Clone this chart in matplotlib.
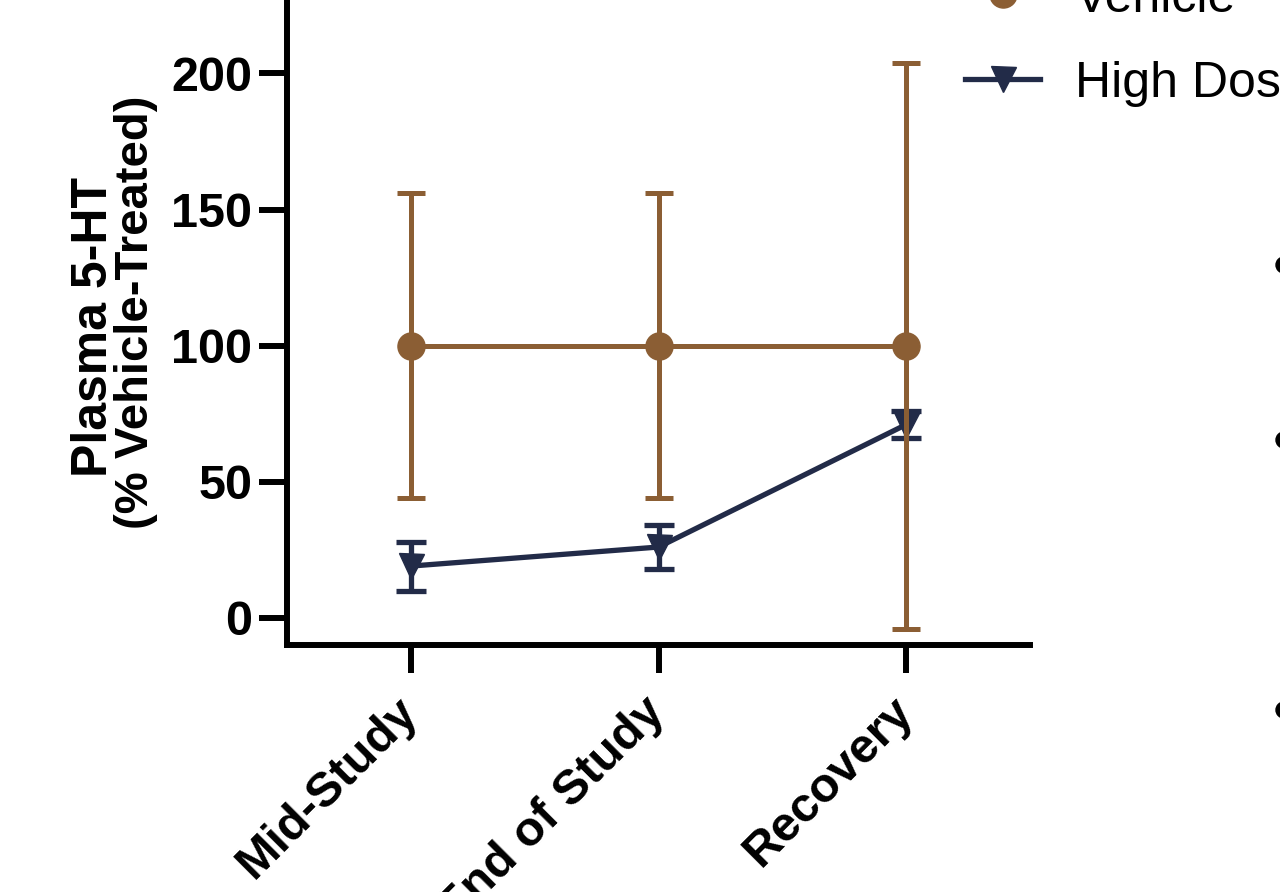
import matplotlib.pyplot as plt
import matplotlib.transforms as mtransforms
from matplotlib.lines import Line2D
from matplotlib.patches import Circle

plt.rcParams['font.family'] = ['Liberation Sans', 'DejaVu Sans']

timepoints = ['Mid-Study', 'End of Study', 'Recovery']
vehicle_mean = [100, 100, 100]
vehicle_lo = [44, 44, -4]
vehicle_hi = [156, 156, 204]
high_mean = [19, 26, 71]
high_lo = [10, 18, 66]
high_hi = [28, 34, 76]

brown = '#8B5E34'
navy = '#222B48'

fig = plt.figure(figsize=(12.8, 8.92), dpi=100)
ax = fig.add_axes([287 / 1280, 1 - 645 / 892, (1030 - 287) / 1280, 645 / 892])

x = list(range(len(timepoints)))

hd_err = [[m - l for m, l in zip(high_mean, high_lo)],
          [h - m for m, h in zip(high_mean, high_hi)]]
ax.errorbar(x, high_mean, yerr=hd_err, color=navy, lw=3.8, marker='v', ms=18,
            capsize=11, capthick=3.8, elinewidth=3.8, zorder=2)

veh_err = [[m - l for m, l in zip(vehicle_mean, vehicle_lo)],
           [h - m for m, h in zip(vehicle_mean, vehicle_hi)]]
ax.errorbar(x, vehicle_mean, yerr=veh_err, color=brown, lw=3.6, marker='o', ms=19.5,
            capsize=10, capthick=3.6, elinewidth=3.6, zorder=3)

ax.set_xlim(-0.5, 2.5)
ax.set_ylim(-10, 227)
ax.set_yticks([0, 50, 100, 150, 200])
ax.set_xticks(x)
ax.set_xticklabels([])
for lab in ax.get_yticklabels():
    lab.set_fontsize(35)
    lab.set_fontweight('bold')

# rotated category labels, nudged to sit like the original
shift = mtransforms.ScaledTranslation(-16 / 100, -44 / 100, fig.dpi_scale_trans)
for xi, name in zip(x, timepoints):
    ax.text(xi, 0, name, transform=ax.get_xaxis_transform() + shift,
            rotation=45, ha='right', va='top', rotation_mode='anchor',
            fontsize=35, fontweight='bold')

for side in ['top', 'right']:
    ax.spines[side].set_visible(False)
for side in ['left', 'bottom']:
    ax.spines[side].set_linewidth(4.3)
ax.tick_params(axis='both', width=4.3, length=20, color='black')
ax.tick_params(axis='y', pad=5)

fig.text(94 / 1280, 1 - 327 / 892, 'Plasma 5-HT', rotation=90, fontsize=36,
         fontweight='bold', ha='center', va='center')
fig.text(136 / 1280, 1 - 312 / 892, '(% Vehicle-Treated)', rotation=90, fontsize=34,
         fontweight='bold', ha='center', va='center')

handles = [
    Line2D([], [], color=brown, lw=3.6, marker='o', ms=19.5),
    Line2D([], [], color=navy, lw=3.8, marker='v', ms=18),
]
fig.legend(handles, ['Vehicle', 'High Dose'], loc='upper left',
           bbox_to_anchor=(965 / 1280, 1 + 24 / 892), frameon=False,
           fontsize=36, borderpad=0, borderaxespad=0, handlelength=1.5,
           handletextpad=0.7, labelspacing=0.78)

for cy in [265, 440, 710]:
    fig.patches.append(Circle((12.84, (892 - cy) / 100), 0.08,
                              transform=fig.dpi_scale_trans, color='black'))

fig.savefig('out.png', dpi=100)
